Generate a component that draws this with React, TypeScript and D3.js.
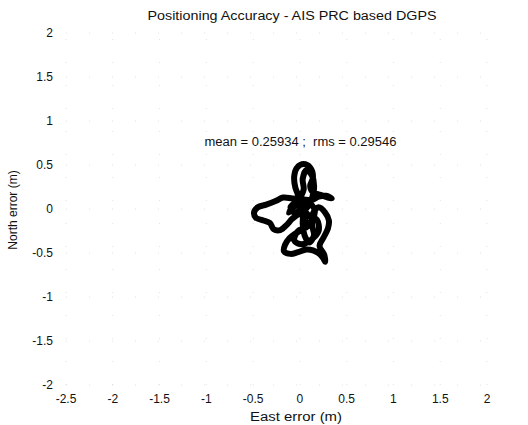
import React from "react";
import * as d3 from "d3";

const W = 528;
const H = 425;

const xTicks = [-2.5, -2, -1.5, -1, -0.5, 0, 0.5, 1, 1.5, 2];
const yTicks = [-2, -1.5, -1, -0.5, 0, 0.5, 1, 1.5, 2];

const titleText = "Positioning Accuracy - AIS PRC based DGPS";
const xLabel = "East error (m)";
const yLabel = "North error (m)";
const statsText = "mean = 0.25934 ;  rms = 0.29546";
const statsPos = [-1.02, 0.76];

const east = [
  0.05, 0.0, -0.05, -0.06, -0.03, 0.04, 0.11, 0.14, 0.11, 0.14, 0.22, 0.3, 0.34, 0.28, 0.2, 0.12, 0.03,
  -0.08, -0.18, -0.26, -0.36, -0.45, -0.49, -0.47, -0.39, -0.32, -0.28, -0.21, -0.14, -0.08, 0.0,
  0.06, 0.04, -0.05, -0.11, -0.16, -0.17, -0.1, -0.02, 0.07, 0.14, 0.21, 0.25, 0.27, 0.26, 0.21,
  0.25, 0.3, 0.31, 0.27, 0.2, 0.14, 0.13, 0.15, 0.1, 0.05, 0.03, 0.05, 0.1, 0.15, 0.13, 0.07, 0.03,
  0.04, -0.02, -0.1, -0.05, 0.02, 0.1, 0.18, 0.2, 0.12, 0.02, -0.06, -0.02, 0.08, 0.16, 0.08, -0.04,
  -0.12, -0.06,
];
const north = [
  0.02, 0.12, 0.25, 0.38, 0.47, 0.51, 0.47, 0.36, 0.26, 0.19, 0.16, 0.13, 0.12, 0.15, 0.14, 0.1, 0.11,
  0.12, 0.13, 0.09, 0.05, 0.02, -0.04, -0.1, -0.13, -0.16, -0.23, -0.24, -0.18, -0.11, -0.06,
  -0.12, -0.22, -0.28, -0.33, -0.41, -0.48, -0.51, -0.49, -0.46, -0.47, -0.51, -0.56, -0.6, -0.52,
  -0.42, -0.33, -0.22, -0.13, -0.04, 0.02, -0.05, -0.18, -0.3, -0.38, -0.3, -0.15, -0.02, 0.05,
  0.22, 0.38, 0.44, 0.34, 0.22, 0.1, 0.02, -0.05, 0.0, -0.08, -0.12, -0.25, -0.35, -0.4, -0.36,
  -0.25, -0.2, -0.02, 0.08, 0.04, -0.04, 0.06,
];

export default function App() {
  const x = d3.scaleLinear().domain([-2.5, 2]).range([66, 487]);
  const y = d3.scaleLinear().domain([-2, 2]).range([385, 33]);
  const pts: [number, number][] = east.map((e, i) => [e, north[i]]);
  const line = d3
    .line<[number, number]>()
    .x((d) => x(d[0]))
    .y((d) => y(d[1]))
    .curve(d3.curveCatmullRom.alpha(0.5));
  const font = "'Liberation Sans', Arial, Helvetica, sans-serif";
  return (
    <svg
      width={W}
      height={H}
      style={{ position: "absolute", left: 0, top: 0, background: "#fff" }}
      fontFamily={font}
    >
      <rect x={0} y={0} width={W} height={H} fill="#fff" />
      {xTicks.map((t) => (
        <line
          key={"gx" + t}
          x1={x(t)}
          x2={x(t)}
          y1={y(-2)}
          y2={y(2)}
          stroke="#c8c8c8"
          strokeWidth={1}
          strokeDasharray="1,22"
          opacity={0.5}
        />
      ))}
      {yTicks.map((t) => (
        <line
          key={"gy" + t}
          x1={x(-2.5)}
          x2={x(2)}
          y1={y(t)}
          y2={y(t)}
          stroke="#c8c8c8"
          strokeWidth={1}
          strokeDasharray="1,22"
          opacity={0.5}
        />
      ))}
      <path
        d={line(pts) || ""}
        fill="none"
        stroke="#000"
        strokeWidth={6}
        strokeLinejoin="round"
        strokeLinecap="round"
      />
      <text x={292} y={20} fontSize={12} textAnchor="middle" textLength={289} lengthAdjust="spacingAndGlyphs" fill="#111">
        {titleText}
      </text>
      <text
        x={x(statsPos[0])}
        y={y(statsPos[1]) + 4}
        fontSize={12}
        textLength={192}
        lengthAdjust="spacingAndGlyphs"
        fill="#111"
        style={{ whiteSpace: "pre" }}
      >
        {statsText}
      </text>
      {yTicks.map((t) => (
        <text key={"ty" + t} x={53} y={y(t) + 4} fontSize={12} textAnchor="end" fill="#111">
          {String(t)}
        </text>
      ))}
      {xTicks.map((t) => (
        <text key={"tx" + t} x={x(t)} y={403} fontSize={12} textAnchor="middle" fill="#111">
          {String(t)}
        </text>
      ))}
      <text x={296} y={421} fontSize={12} textAnchor="middle" textLength={92} lengthAdjust="spacingAndGlyphs" fill="#111">
        {xLabel}
      </text>
      <text
        transform={`translate(17,${210}) rotate(-90)`}
        fontSize={12}
        textAnchor="middle"
        fill="#111"
      >
        {yLabel}
      </text>
    </svg>
  );
}
